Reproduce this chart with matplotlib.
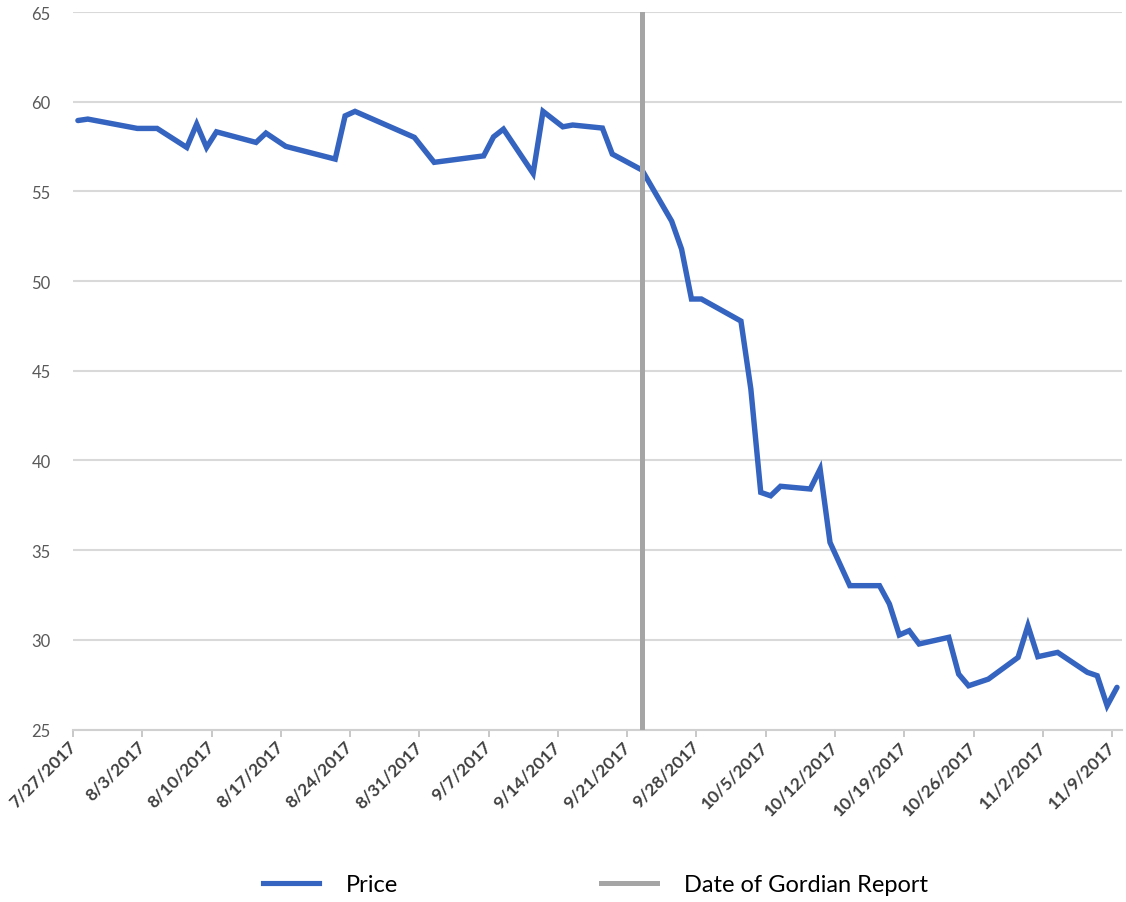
import matplotlib
matplotlib.use("Agg")
import matplotlib.pyplot as plt
import matplotlib.dates as mdates
from matplotlib.lines import Line2D
import pandas as pd

plt.rcParams['font.family'] = ['Lato', 'DejaVu Sans']

# ---- data (vertices) ----
dates = ["2017-07-27", "2017-07-28", "2017-08-02", "2017-08-04", "2017-08-07",
         "2017-08-08", "2017-08-09", "2017-08-10", "2017-08-14", "2017-08-15",
         "2017-08-17", "2017-08-22", "2017-08-23", "2017-08-24", "2017-08-30",
         "2017-09-01", "2017-09-06", "2017-09-07", "2017-09-08", "2017-09-11",
         "2017-09-12", "2017-09-14", "2017-09-15", "2017-09-18", "2017-09-19",
         "2017-09-22", "2017-09-25", "2017-09-26", "2017-09-27", "2017-09-28",
         "2017-10-02", "2017-10-03", "2017-10-04", "2017-10-05", "2017-10-06",
         "2017-10-09", "2017-10-10", "2017-10-11", "2017-10-13", "2017-10-16",
         "2017-10-17", "2017-10-18", "2017-10-19", "2017-10-20", "2017-10-23",
         "2017-10-24", "2017-10-25", "2017-10-27", "2017-10-30", "2017-10-31",
         "2017-11-01", "2017-11-03", "2017-11-06", "2017-11-07", "2017-11-08",
         "2017-11-09"]
price = [58.95, 59.03, 58.51, 58.51, 57.45,
         58.75, 57.45, 58.32, 57.73, 58.25,
         57.51, 56.80, 59.21, 59.46, 58.01,
         56.62, 56.98, 58.04, 58.47, 56.00,
         59.46, 58.60, 58.70, 58.53, 57.08,
         56.19, 53.34, 51.78, 49.00, 49.00,
         47.77, 43.98, 38.22, 38.03, 38.56,
         38.41, 39.52, 35.43, 33.02, 33.02,
         32.00, 30.27, 30.51, 29.77, 30.14,
         28.09, 27.44, 27.81, 29.02, 30.79,
         29.06, 29.30, 28.19, 28.00, 26.33,
         27.35]
report_date = "2017-09-22"
tick_dates = ["2017-07-27", "2017-08-03", "2017-08-10", "2017-08-17", "2017-08-24",
              "2017-08-31", "2017-09-07", "2017-09-14", "2017-09-21", "2017-09-28",
              "2017-10-05", "2017-10-12", "2017-10-19", "2017-10-26", "2017-11-02",
              "2017-11-09"]
tick_labels = ["7/27/2017", "8/3/2017", "8/10/2017", "8/17/2017", "8/24/2017",
               "8/31/2017", "9/7/2017", "9/14/2017", "9/21/2017", "9/28/2017",
               "10/5/2017", "10/12/2017", "10/19/2017", "10/26/2017", "11/2/2017",
               "11/9/2017"]
y_ticks = [25, 30, 35, 40, 45, 50, 55, 60, 65]

x = pd.to_datetime(dates)
half = pd.Timedelta(hours=12)
ticks = pd.to_datetime(tick_dates) - half

fig = plt.figure(figsize=(11.26, 9.03), dpi=100)
ax = fig.add_axes([0.0648, 0.191, 0.9316, 0.7946])

blue = '#3463C0'
grey = '#A5A5A5'

ax.plot(x, price, color=blue, lw=3.9, solid_joinstyle='miter', solid_capstyle='round', zorder=3)
ax.axvline(pd.Timestamp(report_date), color=grey, lw=3.6, zorder=4)

ax.set_xlim(x[0] - half, x[-1] + half)
ax.set_ylim(25, 65)
ax.set_yticks(y_ticks)
ax.yaxis.grid(True, color='#D9D9D9', lw=1.5)
ax.set_axisbelow(True)

ax.set_xticks(ticks)
ax.set_xticklabels(tick_labels, rotation=45, ha='right', va='center',
                   rotation_mode='anchor', fontsize=12.5, fontweight='bold', color='#404040')
ax.tick_params(axis='x', length=5, width=1.2, color='#BFBFBF', pad=5)
ax.tick_params(axis='y', length=0, pad=16, labelsize=12, labelcolor='#595959')

for s in ['top', 'right', 'left']:
    ax.spines[s].set_visible(False)
ax.spines['bottom'].set_color('#D0D0D0')
ax.spines['bottom'].set_linewidth(1.5)

handles = [Line2D([], [], color=blue, lw=3.7),
           Line2D([], [], color=grey, lw=3.6)]
fig.legend(handles, ["Price", "Date of Gordian Report"], loc='center',
           bbox_to_anchor=(0.529, 0.019), ncol=2, frameon=False, fontsize=17,
           handlelength=2.37, handletextpad=1.14, columnspacing=8.6)

fig.savefig("out.png", dpi=100)
